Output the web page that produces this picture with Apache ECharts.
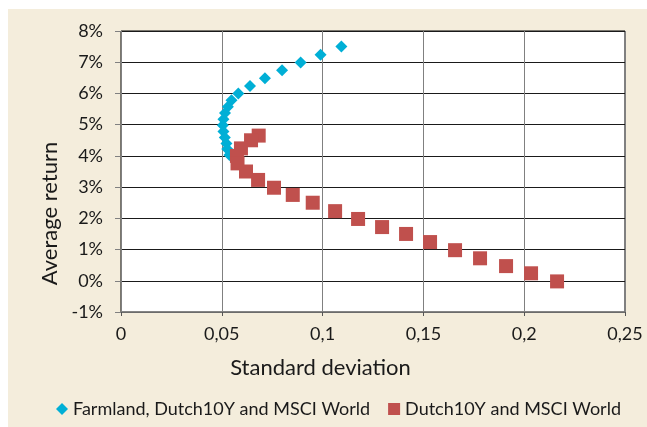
<!DOCTYPE html>
<html>
<head>
<meta charset="utf-8">
<script src="https://cdn.jsdelivr.net/npm/echarts@6/dist/echarts.min.js"></script>
<style>
html,body{margin:0;padding:0;background:#fff;}
#bg{position:absolute;left:8px;top:9px;width:639px;height:418px;background:#F4EDDC;}
#chart{position:absolute;left:0;top:0;width:647px;height:427px;}
</style>
</head>
<body>
<div id="bg"></div>
<div id="chart"></div>
<script>
// Farmland, Dutch10Y and MSCI World (std dev, average return in %)
const farmX = [0.1093,0.0990,0.0891,0.0799,0.0714,0.0640,0.0582,0.0548,0.0530,0.0516,0.0508,0.0505,0.0508,0.0515,0.0523,0.0527,0.0538];
const farmY = [7.50,7.24,6.99,6.74,6.49,6.24,6.00,5.78,5.57,5.37,5.17,4.98,4.78,4.59,4.40,4.22,4.03];
// Dutch10Y and MSCI World
const redX = [0.0683,0.0645,0.0595,0.0575,0.0578,0.0620,0.0680,0.0759,0.0852,0.0951,0.1062,0.1176,0.1295,0.1414,0.1533,0.1657,0.1781,0.1910,0.2034,0.2163];
const redY = [4.65,4.50,4.24,4.00,3.76,3.50,3.23,2.98,2.75,2.50,2.23,1.98,1.72,1.50,1.24,0.98,0.72,0.47,0.24,-0.02];
const seriesNames = ['Farmland, Dutch10Y and MSCI World','Dutch10Y and MSCI World'];
const xTitle = 'Standard deviation';
const yTitle = 'Average return';

const FONT = 'Lato';
const TXT = '#1a1a1a';
const zip = (a,b) => a.map((v,i)=>[v,b[i]]);
const chart = echarts.init(document.getElementById('chart'));
chart.setOption({
  animation:false,
  backgroundColor:'transparent',
  textStyle:{fontFamily:FONT,color:TXT},
  grid:{left:121,top:31,right:22,bottom:115,show:true,backgroundColor:'#fff',borderColor:'#000',borderWidth:1},
  legend:{
    left:51, top:395, itemGap:18, itemWidth:12, itemHeight:12,
    textStyle:{fontFamily:FONT,fontSize:18,color:TXT},
    data:[{name:seriesNames[0],icon:'diamond'},{name:seriesNames[1],icon:'rect'}]
  },
  xAxis:[{
    type:'value',min:0,max:0.25,interval:0.05,
    name:xTitle,nameLocation:'middle',nameGap:45,
    nameTextStyle:{fontFamily:FONT,fontSize:22,color:TXT,padding:[0,105,0,0]},
    axisLine:{show:false},axisTick:{show:false},
    axisLabel:{margin:13,fontFamily:FONT,fontSize:18,color:TXT,
      formatter:v=>v===0?'0':String(+v.toFixed(2)).replace('.',',')},
    splitLine:{show:true,lineStyle:{color:'#808080',width:1}}
  },{
    type:'value',min:0,max:0.25,interval:0.05,position:'bottom',
    axisLine:{show:true,onZero:true,lineStyle:{color:'#868686',width:1.5}},
    axisTick:{show:true,length:4,inside:false,lineStyle:{color:'#555'}},
    axisLabel:{show:false},splitLine:{show:false}
  }],
  yAxis:{
    type:'value',min:-1,max:8,interval:1,
    name:yTitle,nameLocation:'middle',nameGap:58,
    nameTextStyle:{fontFamily:FONT,fontSize:22,color:TXT,padding:[0,84,0,0]},
    axisLine:{show:true,lineStyle:{color:'#808080',width:1}},
    axisTick:{show:true,length:6,lineStyle:{color:'#808080'}},
    axisLabel:{margin:18,fontFamily:FONT,fontSize:18,color:TXT,formatter:'{value}%'},
    splitLine:{show:true,lineStyle:{color:'#1a1a1a',width:1}}
  },
  series:[{
    name:seriesNames[0],type:'scatter',symbol:'diamond',symbolSize:12,
    itemStyle:{color:'#00AFD6',opacity:1},
    data:zip(farmX,farmY)
  },{
    name:seriesNames[1],type:'scatter',symbol:'rect',symbolSize:14,
    itemStyle:{color:'#C0504D',opacity:1},
    data:zip(redX,redY)
  }]
});
</script>
</body>
</html>
